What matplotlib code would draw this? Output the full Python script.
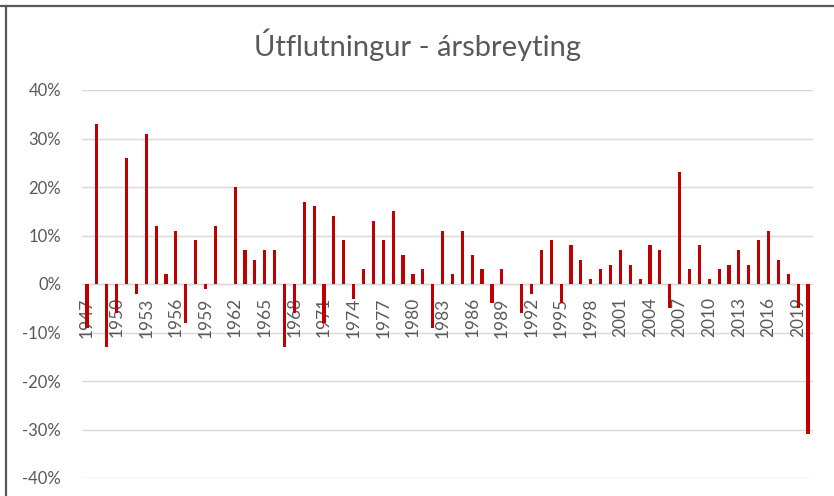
import matplotlib
matplotlib.use("Agg")
import matplotlib.pyplot as plt
from matplotlib.lines import Line2D
from matplotlib.ticker import FuncFormatter, FixedLocator

years = list(range(1947, 2021))
values = [
    -9, 33, -13, -6, 26, -2, 31, 12, 2, 11,
    -8, 9, -1, 12, 0, 20, 7, 5, 7, 7,
    -13, -6, 17, 16, -8, 14, 9, -3, 3, 13,
    9, 15, 6, 2, 3, -9, 11, 2, 11, 6,
    3, -4, 3, 0, -6, -2, 7, 9, -4, 8,
    5, 1, 3, 4, 7, 4, 1, 8, 7, -5,
    23, 3, 8, 1, 3, 4, 7, 4, 9, 11,
    5, 2, -5, -31,
]
title = "Útflutningur - ársbreyting"
yticks = [-40, -30, -20, -10, 0, 10, 20, 30, 40]

plt.rcParams['font.family'] = ['Lato', 'DejaVu Sans']

W, H = 834, 496
fig = plt.figure(figsize=(W / 100, H / 100), dpi=100)
ax = fig.add_axes([82 / W, (H - 478) / H, (813 - 82) / W, (478 - 90) / H])

x = list(range(len(years)))
ax.bar(x, values, width=0.32, color="#C00000", zorder=3)

ax.set_xlim(-0.5, len(years) - 0.5)
ax.set_ylim(-40, 40)
ax.yaxis.set_major_locator(FixedLocator(yticks))
ax.yaxis.set_major_formatter(FuncFormatter(lambda v, p: f"{int(v)}%"))
ax.grid(axis="y", color="#D9D9D9", linewidth=1, zorder=0)
ax.axhline(0, color="#D9D9D9", linewidth=1, zorder=1)
for s in ax.spines.values():
    s.set_visible(False)
ax.tick_params(axis="y", length=0, pad=15, labelsize=12, labelcolor="#595959")
ax.set_xticks([])

# category labels placed at the zero line, every third year
for i, yr in enumerate(years):
    if (yr - 1947) % 3 == 0:
        ax.annotate(str(yr), xy=(i, 0), xytext=(0, -9.5), textcoords="offset points",
                    rotation=90, ha="center", va="top", fontsize=12.5,
                    color="#595959", zorder=2)

fig.text(0.5, (H - 45) / H, title, ha="center", va="center", fontsize=21, color="#595959")

# outer frame (top and left)
fig.add_artist(Line2D([0, 1], [(H - 5.5) / H] * 2, color="#595959", linewidth=1.6, transform=fig.transFigure))
fig.add_artist(Line2D([5.5 / W] * 2, [0, (H - 5.5) / H], color="#595959", linewidth=1.6, transform=fig.transFigure))

fig.savefig("out.png", dpi=100, facecolor="white")
